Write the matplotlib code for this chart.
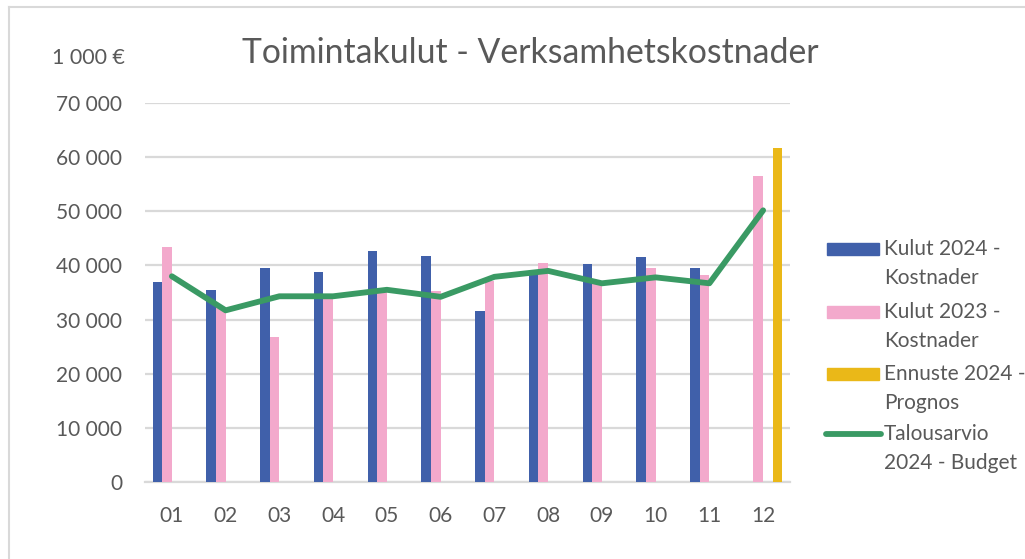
import matplotlib
matplotlib.use("Agg")
import matplotlib.pyplot as plt
import numpy as np
from matplotlib.patches import Rectangle
from matplotlib.lines import Line2D

months = ["01", "02", "03", "04", "05", "06", "07", "08", "09", "10", "11", "12"]
kulut_2024 = [36900, 35500, 39600, 38800, 42600, 41700, 31500, 38700, 40200, 41500, 39600, None]
kulut_2023 = [43400, 32300, 26800, 33900, 35100, 35300, 37200, 40500, 36700, 39600, 38200, 56600]
ennuste_2024 = [None] * 11 + [61800]
budget_2024 = [38000, 31700, 34300, 34300, 35500, 34200, 37900, 39000, 36700, 37800, 36700, 50200]

series_labels = ["Kulut 2024 -\nKostnader", "Kulut 2023 -\nKostnader",
                 "Ennuste 2024 -\nPrognos", "Talousarvio\n2024 - Budget"]
title = "Toimintakulut - Verksamhetskostnader"
unit_label = "1 000 €"
yticks = [0, 10000, 20000, 30000, 40000, 50000, 60000, 70000]

c_blue = "#4060AA"
c_pink = "#F3A9CC"
c_yellow = "#EAB818"
c_green = "#3A9A64"
c_text = "#595959"
c_grid = "#D9D9D9"

plt.rcParams["font.family"] = ["Lato", "DejaVu Sans"]

fig = plt.figure(figsize=(10.25, 5.59), dpi=100)
W, H = 1025, 559
ax = fig.add_axes([145 / W, 1 - 481.7 / H, (790 - 145) / W, (481.7 - 103.3) / H])

x = np.arange(len(months))
w = 0.18


def clean(vals):
    return [np.nan if v is None else v for v in vals]


ax.bar(x - 1.5 * w, clean(kulut_2024), width=w, color=c_blue, zorder=3)
ax.bar(x - 0.5 * w, clean(kulut_2023), width=w, color=c_pink, zorder=3)
ax.bar(x + 1.5 * w, clean(ennuste_2024), width=w, color=c_yellow, zorder=3)
ax.plot(x, budget_2024, color=c_green, lw=4.2, solid_capstyle="round",
        solid_joinstyle="round", zorder=4)

ax.set_xlim(-0.5, len(months) - 0.5)
ax.set_ylim(0, 70000)
ax.set_yticks(yticks)
ax.set_yticklabels([f"{v:,}".replace(",", " ") for v in yticks])
ax.set_xticks(x)
ax.set_xticklabels(months)
ax.grid(axis="y", color=c_grid, lw=1.6, zorder=0)
ax.set_axisbelow(True)
for s in ["top", "right", "left"]:
    ax.spines[s].set_visible(False)
ax.spines["bottom"].set_color(c_grid)
ax.spines["bottom"].set_linewidth(1.6)
ax.tick_params(axis="both", length=0, colors=c_text, labelsize=15)
ax.tick_params(axis="y", pad=16.5)
ax.tick_params(axis="x", pad=17.5)

fig.text(530 / W, 1 - 53 / H, title, ha="center", va="center", fontsize=24.3, color=c_text)
fig.text(52 / W, 1 - 58 / H, unit_label, ha="left", va="center", fontsize=15.5, color=c_text)

# chart border
fig.add_artist(Line2D([9 / W, 9 / W], [0, 1 - 7 / H], color=c_grid, lw=1.5))
fig.add_artist(Line2D([9 / W, 1], [1 - 7 / H, 1 - 7 / H], color=c_grid, lw=1.5))

# legend
leg_y = [249, 312, 374, 434]
colors = [c_blue, c_pink, c_yellow]
for i, lab in enumerate(series_labels):
    yc = 1 - leg_y[i] / H
    if i < 3:
        fig.add_artist(Rectangle((827 / W, yc - 6 / H), 52 / W, 12 / H,
                                 color=colors[i], transform=fig.transFigure))
    else:
        fig.add_artist(Line2D([826 / W, 881 / W], [yc, yc], color=c_green, lw=4.2,
                              solid_capstyle="round"))
    l1, l2 = lab.split("\n")
    fig.text(884 / W, yc, l1, ha="left", va="center", fontsize=15, color=c_text)
    fig.text(884 / W, yc - 29 / H, l2, ha="left", va="center", fontsize=15, color=c_text)

fig.savefig("out.png", dpi=100, facecolor="white")
